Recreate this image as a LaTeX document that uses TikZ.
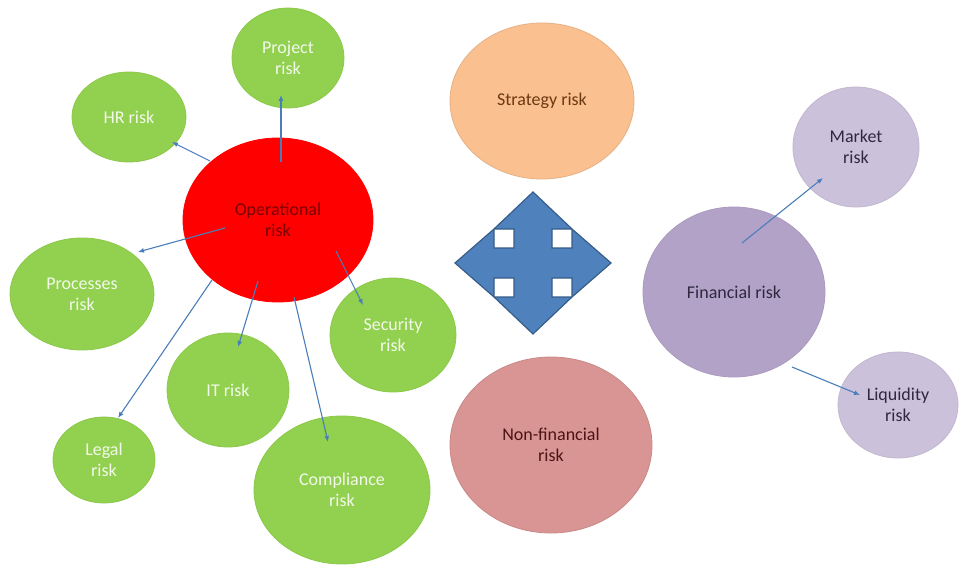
\documentclass[tikz,border=0pt]{standalone}
\usepackage{fontspec}
\setmainfont{Carlito}
\usetikzlibrary{shapes.geometric,arrows.meta}

\definecolor{leaf}{HTML}{92D050}
\definecolor{leafedge}{HTML}{8CC84A}
\definecolor{leaftext}{HTML}{F2F9EA}
\definecolor{opred}{HTML}{FF0000}
\definecolor{optext}{HTML}{7A0000}
\definecolor{peach}{HTML}{FAC090}
\definecolor{peachtext}{HTML}{6B3A12}
\definecolor{rose}{HTML}{D99594}
\definecolor{rosetext}{HTML}{4A1414}
\definecolor{violet}{HTML}{B3A2C7}
\definecolor{lilac}{HTML}{CCC1DA}
\definecolor{violettext}{HTML}{2E2840}
\definecolor{linkblue}{HTML}{4A7EBB}
\definecolor{crossfill}{HTML}{4F81BD}
\definecolor{crossedge}{HTML}{385D8A}

\tikzset{
  bubble/.style={ellipse, inner sep=0pt, align=center,
    font=\fontsize{18}{21}\selectfont, line width=0.8pt},
  leafbubble/.style={bubble, fill=leaf, draw=leafedge, text=leaftext},
  link/.style={draw=linkblue, line width=1.1pt,
    -{Latex[length=6pt,width=5pt]}},
}

\begin{document}
\begin{tikzpicture}[x=1pt,y=-1pt]
\useasboundingbox[fill=white] (0,0) rectangle (959,567);

% operational branch
\node[bubble, fill=opred, draw=opred, text=optext,
  minimum width=190pt, minimum height=164pt] (op) at (278,220) {Operational\\risk};
\node[leafbubble, minimum width=112pt, minimum height=100pt] (proj) at (288,58) {Project\\risk};
\node[leafbubble, minimum width=114pt, minimum height=90pt] (hr) at (129,117) {HR risk};
\node[leafbubble, minimum width=144pt, minimum height=112pt] (proc) at (82,294) {Processes\\risk};
\node[leafbubble, minimum width=122pt, minimum height=114pt] (it) at (228,390) {IT risk};
\node[leafbubble, minimum width=102pt, minimum height=86pt] (legal) at (104,460) {Legal\\risk};
\node[leafbubble, minimum width=126pt, minimum height=114pt] (sec) at (393,335) {Security\\risk};
\node[leafbubble, minimum width=176pt, minimum height=148pt] (comp) at (342,490) {Compliance\\risk};

% middle column
\node[bubble, fill=peach, draw=peach!92!black, text=peachtext,
  minimum width=184pt, minimum height=156pt] (strat) at (542,101) {Strategy risk};
\node[bubble, fill=rose, draw=rose!92!black, text=rosetext,
  minimum width=202pt, minimum height=176pt] (nonfin) at (551,445) {Non-financial\\risk};

% financial branch
\node[bubble, fill=violet, draw=violet!95!black, text=violettext,
  minimum width=182pt, minimum height=170pt] (fin) at (734,292) {Financial risk};
\node[bubble, fill=lilac, draw=lilac!95!black, text=violettext,
  minimum width=126pt, minimum height=120pt] (market) at (856,147) {Market\\risk};
\node[bubble, fill=lilac, draw=lilac!95!black, text=violettext,
  minimum width=120pt, minimum height=106pt] (liq) at (898,405) {Liquidity\\risk};

% connector ends
\coordinate (op-proj) at (281,162);  \coordinate (proj-in) at (281,95);
\coordinate (op-hr)   at (210,161);  \coordinate (hr-in)   at (172,142);
\coordinate (op-proc) at (225,228);  \coordinate (proc-in) at (138,252);
\coordinate (op-leg)  at (212,280);  \coordinate (leg-in)  at (118,418);
\coordinate (op-it)   at (258,281);  \coordinate (it-in)   at (238,347);
\coordinate (op-comp) at (294,297);  \coordinate (comp-in) at (328,442);
\coordinate (op-sec)  at (336,251);  \coordinate (sec-in)  at (363,305);
\coordinate (fin-mk)  at (742,243);  \coordinate (mk-in)   at (823,178);
\coordinate (fin-lq)  at (792,367);  \coordinate (lq-in)   at (860,395);

\draw[link] (op-proj) -- (proj-in);
\draw[link] (op-hr)   -- (hr-in);
\draw[link] (op-proc) -- (proc-in);
\draw[link] (op-leg)  -- (leg-in);
\draw[link] (op-it)   -- (it-in);
\draw[link] (op-comp) -- (comp-in);
\draw[link] (op-sec)  -- (sec-in);
\draw[link] (fin-mk)  -- (mk-in);
\draw[link] (fin-lq)  -- (lq-in);

% four-way arrow
\begin{scope}[shift={(533,263)}]
\draw[fill=crossfill, draw=crossedge, line width=1.2pt, line join=miter]
  (0,-71) -- (-39,-34) -- (-19,-34) -- (-19,-15) -- (-39,-15) -- (-39,-34)
  -- (-78,0) -- (-39,34) -- (-39,15) -- (-19,15) -- (-19,34) -- (-39,34)
  -- (0,71) -- (39,34) -- (19,34) -- (19,15) -- (39,15) -- (39,34)
  -- (78,0) -- (39,-34) -- (39,-15) -- (19,-15) -- (19,-34) -- (39,-34)
  -- cycle;
\end{scope}
\end{tikzpicture}
\end{document}
